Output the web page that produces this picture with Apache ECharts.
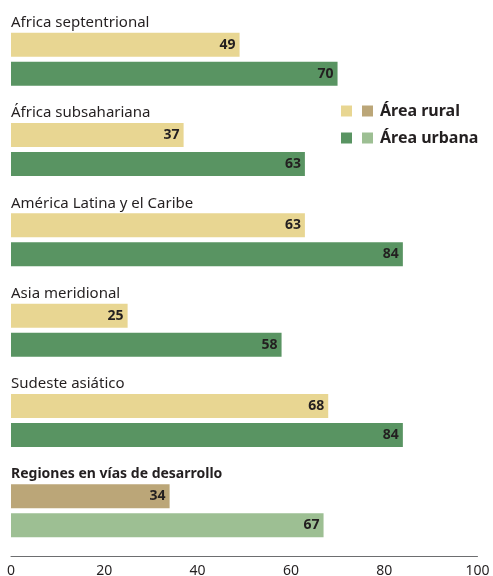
<!DOCTYPE html>
<html><head><meta charset="utf-8">
<script src="https://cdn.jsdelivr.net/npm/echarts@6/dist/echarts.min.js"></script>
<style>html,body{margin:0;padding:0;background:#fff}#c{width:493px;height:576px}</style>
</head><body><div id="c"></div>
<script>
const categories = ['Africa septentrional','África subsahariana','América Latina y el Caribe','Asia meridional','Sudeste asiático','Regiones en vías de desarrollo'];
const rural = [49, 37, 63, 25, 68, 34];
const urbana = [70, 63, 84, 58, 84, 67];
const xTicks = [0, 20, 40, 60, 80, 100];
const seriesNames = ['Área rural', 'Área urbana'];

const C = {rural:'#e8d692', ruralDev:'#bba678', urb:'#599462', urbDev:'#9dbf93', text:'#231f20'};
const FONT = 'Noto Sans';
const last = categories.length - 1;

const chart = echarts.init(document.getElementById('c'));
const lbl = {show:true, position:'insideRight', distance:4, color:C.text, fontWeight:'bold', fontSize:14, fontFamily:FONT};
chart.setOption({
  animation:false,
  textStyle:{fontFamily:FONT},
  grid:{left:11, right:15.5, top:14, height:542, outerBoundsMode:'none', containLabel:false},
  legend:{
    top:103, left:341, padding:0, orient:'vertical', itemGap:11,
    icon:'rect', itemWidth:11, itemHeight:11,
    data:seriesNames,
    formatter: n => '{g|}' + (n===seriesNames[0] ? '{a|}' : '{b|}') + '{t|' + n + '}',
    textStyle:{
      rich:{
        g:{width:5, height:11},
        a:{backgroundColor:C.ruralDev, width:11, height:11, padding:0},
        b:{backgroundColor:C.urbDev, width:11, height:11, padding:0},
        t:{fontSize:16, fontWeight:'bold', color:C.text, fontFamily:FONT, padding:[0,0,0,7]}
      }
    }
  },
  xAxis:{
    type:'value', min:xTicks[0], max:xTicks[xTicks.length-1], interval:20,
    axisLine:{show:true, lineStyle:{color:'#6d6e70', width:1}},
    axisTick:{show:false}, splitLine:{show:false},
    axisLabel:{color:C.text, fontSize:14, margin:8, fontFamily:FONT}
  },
  yAxis:{
    type:'category', data:categories, inverse:true,
    axisLine:{show:false}, axisTick:{show:false},
    axisLabel:{
      inside:true, margin:0, align:'left', verticalAlign:'bottom',
      formatter:(v,i) => (i===last ? '{bd|'+v+'}' : '{n|'+v+'}') + '\n{sp|}',
      rich:{
        n:{fontSize:15, color:C.text, fontFamily:FONT, lineHeight:17},
        bd:{fontSize:14, fontWeight:'bold', color:C.text, fontFamily:FONT, lineHeight:17},
        sp:{height:28, lineHeight:28, fontSize:1}
      }
    }
  },
  series:[
    {name:seriesNames[0], type:'bar', barWidth:24, barGap:'21%',
     itemStyle:{color:C.rural}, label:lbl,
     data:rural.map((v,i)=> i===last ? {value:v, itemStyle:{color:C.ruralDev}} : v)},
    {name:seriesNames[1], type:'bar', barWidth:24, barGap:'21%',
     itemStyle:{color:C.urb}, label:lbl,
     data:urbana.map((v,i)=> i===last ? {value:v, itemStyle:{color:C.urbDev}} : v)}
  ]
});
</script></body></html>
